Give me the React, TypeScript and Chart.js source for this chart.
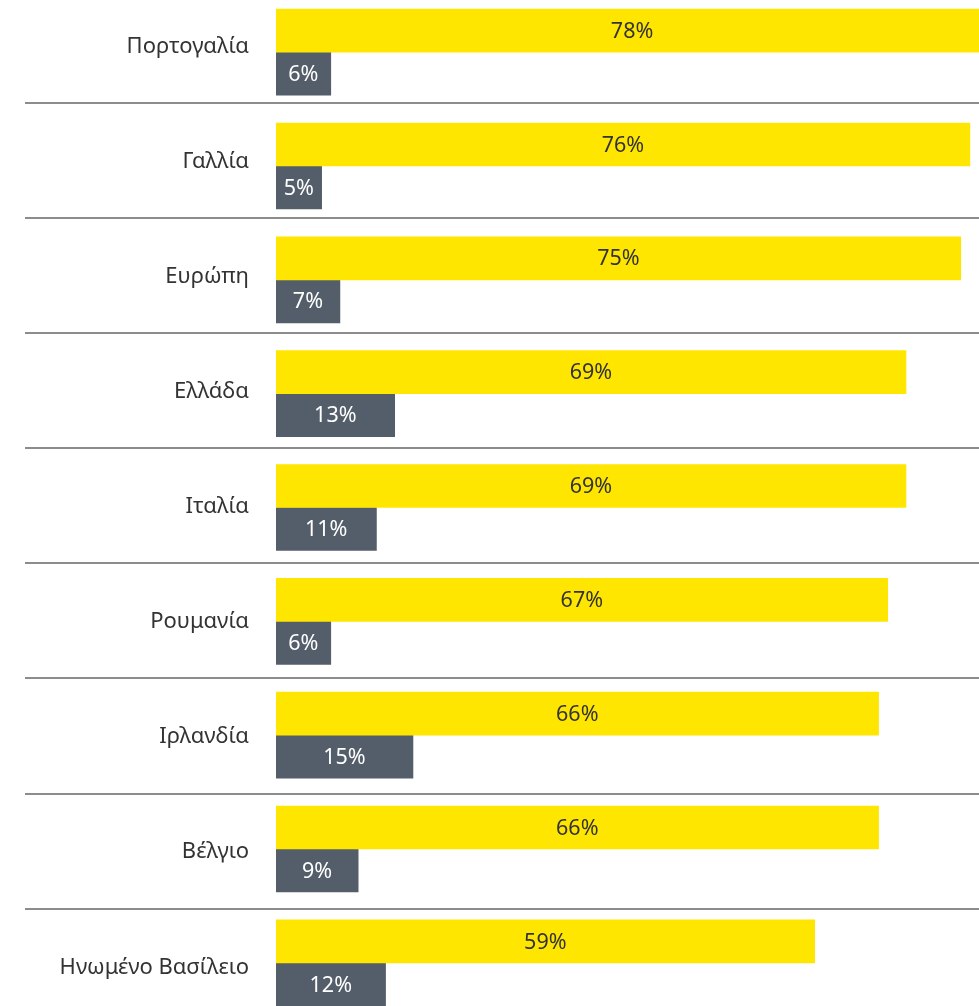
import React, { useEffect, useRef } from "react";
import { Chart, registerables } from "chart.js";

Chart.register(...registerables);

const categories: string[] = [
  "Πορτογαλία",
  "Γαλλία",
  "Ευρώπη",
  "Ελλάδα",
  "Ιταλία",
  "Ρουμανία",
  "Ιρλανδία",
  "Βέλγιο",
  "Ηνωμένο Βασίλειο",
];
const seriesA: number[] = [78, 76, 75, 69, 69, 67, 66, 66, 59];
const seriesB: number[] = [6, 5, 7, 13, 11, 6, 15, 9, 12];
const xMax = 77;

const FONT = '"Noto Sans", sans-serif';
const CANVAS_TOP = -45;
const CANVAS_H = 1105;

const valueLabels = {
  id: "valueLabels",
  afterDatasetsDraw(chart: any) {
    const ctx = chart.ctx;
    const xs = chart.scales.x;
    ctx.save();
    ctx.font = `21.5px ${FONT}`;
    ctx.textAlign = "center";
    ctx.textBaseline = "middle";
    chart.data.datasets.forEach((ds: any, di: number) => {
      const meta = chart.getDatasetMeta(di);
      ctx.fillStyle = di === 0 ? "#333333" : "#ffffff";
      meta.data.forEach((el: any, i: number) => {
        const v = ds.data[i];
        const cx = (xs.getPixelForValue(0) + xs.getPixelForValue(v)) / 2;
        ctx.fillText(`${v}%`, cx, el.y + 1);
      });
    });
    ctx.restore();
  },
};

const separators = {
  id: "separators",
  beforeDatasetsDraw(chart: any) {
    const ctx = chart.ctx;
    const ys = chart.scales.yl;
    const n = categories.length;
    ctx.save();
    ctx.strokeStyle = "#8c8c8c";
    ctx.lineWidth = 2;
    for (let i = 0; i < n - 1; i++) {
      const y = Math.round(ys.getPixelForValue(i + 0.49));
      ctx.beginPath();
      ctx.moveTo(25, y);
      ctx.lineTo(chart.width, y);
      ctx.stroke();
    }
    ctx.restore();
  },
};

function BarChart() {
  const ref = useRef<HTMLCanvasElement | null>(null);
  useEffect(() => {
    if (!ref.current) return;
    const chart = new Chart(ref.current, {
      type: "bar",
      data: {
        labels: categories,
        datasets: [
          { data: seriesA, backgroundColor: "#ffe600", barThickness: 43 },
          { data: seriesB, backgroundColor: "#545e6a", barThickness: 43 },
        ],
      },
      options: {
        indexAxis: "y",
        animation: false,
        responsive: false,
        devicePixelRatio: 1,
        layout: { padding: 0 },
        plugins: { legend: { display: false }, tooltip: { enabled: false } },
        scales: {
          x: { display: false, min: 0, max: xMax },
          y: { type: "category", display: false },
          yl: {
            type: "linear",
            axis: "y",
            position: "left",
            reverse: true,
            offset: false,
            bounds: "data",
            min: -0.4457,
            max: 8.456,
            grid: { display: false, drawTicks: false, offset: false },
            border: { display: false },
            afterBuildTicks(scale: any) {
              scale.ticks = categories.map((_, i) => ({ value: i }));
            },
            ticks: {
              autoSkip: false,
              padding: 27,
              color: "#333333",
              font: { family: FONT, size: 22 },
              callback: (v: any) => {
                const i = Math.round(Number(v));
                return Math.abs(Number(v) - i) < 1e-6 ? categories[i] ?? "" : "";
              },
            },
            afterFit(scale: any) {
              scale.width = 276;
            },
          },
        },
      },
      plugins: [separators, valueLabels],
    });
    return () => chart.destroy();
  }, []);
  return (
    <canvas
      ref={ref}
      width={979}
      height={CANVAS_H}
      style={{ position: "absolute", left: 0, top: CANVAS_TOP, width: 979, height: CANVAS_H }}
    />
  );
}

export default function App() {
  return (
    <div
      style={{
        position: "absolute",
        left: 0,
        top: 0,
        width: 979,
        height: 1006,
        overflow: "hidden",
        background: "#fff",
      }}
    >
      <BarChart />
    </div>
  );
}
